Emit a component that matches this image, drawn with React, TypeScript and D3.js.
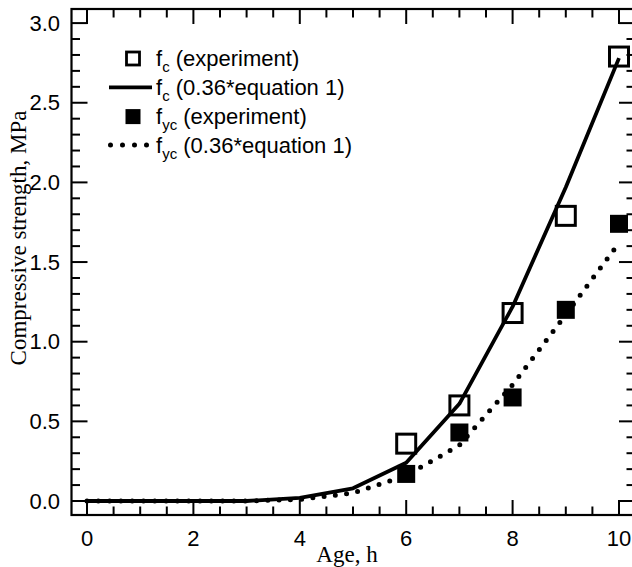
import React from "react";
import * as d3 from "d3";

const ages = [0, 1, 2, 3, 4, 5, 6, 7, 8, 9, 10];
const fcModel = [0, 0, 0, 0, 0.02, 0.08, 0.24, 0.61, 1.22, 1.97, 2.78];
const fycModel = [0, 0, 0, 0, 0.01, 0.05, 0.16, 0.35, 0.73, 1.17, 1.62];
const expAges = [6, 7, 8, 9, 10];
const fcExp = [0.36, 0.6, 1.18, 1.79, 2.79];
const fycExp = [0.17, 0.43, 0.65, 1.2, 1.74];
const xMajor = [0, 2, 4, 6, 8, 10];
const yMajor = [0, 0.5, 1.0, 1.5, 2.0, 2.5, 3.0];
const legendLabels = [
  { main: "f", sub: "c", rest: " (experiment)" },
  { main: "f", sub: "c", rest: " (0.36*equation 1)" },
  { main: "f", sub: "yc", rest: " (experiment)" },
  { main: "f", sub: "yc", rest: " (0.36*equation 1)" },
];

const W = 632;
const H = 567;
const L = 71.5, R = 635, T = 9, B = 515;

export default function App() {
  const x = d3.scaleLinear().domain([0, 10]).range([87, 619]);
  const y = d3.scaleLinear().domain([0, 3]).range([501, 23.1]);
  const line = d3
    .line<number>()
    .x((_, i) => x(ages[i]))
    .y((d) => y(d));

  const xMinor = d3.range(0, 10.01, 0.5).filter((v) => Math.abs(v / 2 - Math.round(v / 2)) > 1e-6);
  const yMinor = d3.range(0, 3.05, 0.1).filter((v) => Math.abs(v / 0.5 - Math.round(v / 0.5)) > 1e-6);
  const sans = "Arial, 'Liberation Sans', Helvetica, sans-serif";
  const serif = "'Times New Roman', 'Liberation Serif', Times, serif";
  const maj = 15, min = 8.5;
  const legY = [58.5, 87.3, 116.6, 145];

  return (
    <svg width={W} height={H} style={{ position: "fixed", left: 0, top: 0, background: "#fff" }}>
      <rect x={0} y={0} width={W} height={H} fill="#fff" />
      {/* model lines */}
      <path d={line(fcModel) || ""} fill="none" stroke="#000" strokeWidth={3.8} strokeLinejoin="round" />
      <path
        d={line(fycModel) || ""}
        fill="none"
        stroke="#000"
        strokeWidth={5}
        strokeLinecap="round"
        strokeDasharray="0 11.3"
      />
      {/* experiments */}
      {expAges.map((a, i) => (
        <rect key={"fc" + i} x={x(a) - 9.5} y={y(fcExp[i]) - 9.5} width={19} height={19} fill="none" stroke="#000" strokeWidth={3} />
      ))}
      {expAges.map((a, i) => (
        <rect key={"fy" + i} x={x(a) - 9} y={y(fycExp[i]) - 9} width={18} height={18} fill="#000" />
      ))}
      {/* frame */}
      <rect x={L} y={T} width={R - L} height={B - T} fill="none" stroke="#000" strokeWidth={2.2} />
      {/* x ticks */}
      {xMajor.map((v) => (
        <g key={"xm" + v}>
          <line x1={x(v)} x2={x(v)} y1={B} y2={B - maj} stroke="#000" strokeWidth={2} />
          <line x1={x(v)} x2={x(v)} y1={T} y2={T + maj} stroke="#000" strokeWidth={2} />
          <text x={x(v)} y={546} textAnchor="middle" fontFamily={sans} fontSize={22}>
            {v}
          </text>
        </g>
      ))}
      {xMinor.map((v) => (
        <g key={"xn" + v}>
          <line x1={x(v)} x2={x(v)} y1={B} y2={B - min} stroke="#000" strokeWidth={2} />
          <line x1={x(v)} x2={x(v)} y1={T} y2={T + min} stroke="#000" strokeWidth={2} />
        </g>
      ))}
      {/* y ticks */}
      {yMajor.map((v) => (
        <g key={"ym" + v}>
          <line x1={L} x2={L + maj + 1} y1={y(v)} y2={y(v)} stroke="#000" strokeWidth={2} />
          <line x1={R} x2={R - maj - 1} y1={y(v)} y2={y(v)} stroke="#000" strokeWidth={2} />
          <text x={60} y={y(v) + 7.5} textAnchor="end" fontFamily={sans} fontSize={22}>
            {v.toFixed(1)}
          </text>
        </g>
      ))}
      {yMinor.map((v) => (
        <g key={"yn" + v}>
          <line x1={L} x2={L + min} y1={y(v)} y2={y(v)} stroke="#000" strokeWidth={2} />
          <line x1={R} x2={R - min} y1={y(v)} y2={y(v)} stroke="#000" strokeWidth={2} />
        </g>
      ))}
      {/* titles */}
      <text x={347} y={562} textAnchor="middle" fontFamily={serif} fontSize={23}>
        Age, h
      </text>
      <text
        transform={`translate(26,${238}) rotate(-90)`}
        textAnchor="middle"
        fontFamily={serif}
        fontSize={23}
      >
        Compressive strength, MPa
      </text>
      {/* legend */}
      <rect x={133 - 6.5} y={legY[0] - 6.5} width={13} height={13} fill="none" stroke="#000" strokeWidth={2.8} />
      <line x1={109} x2={152} y1={legY[1]} y2={legY[1]} stroke="#000" strokeWidth={3.8} />
      <rect x={133 - 7.5} y={legY[2] - 7.5} width={15} height={15} fill="#000" />
      <line
        x1={110.5}
        x2={147}
        y1={legY[3]}
        y2={legY[3]}
        stroke="#000"
        strokeWidth={5}
        strokeLinecap="round"
        strokeDasharray="0 12"
      />
      {legendLabels.map((l, i) => (
        <text key={"lg" + i} x={156} y={legY[i] + 7.5} fontFamily={sans} fontSize={22}>
          {l.main}
          <tspan fontSize={15} dy={6}>
            {l.sub}
          </tspan>
          <tspan dy={-6}>{l.rest}</tspan>
        </text>
      ))}
    </svg>
  );
}
